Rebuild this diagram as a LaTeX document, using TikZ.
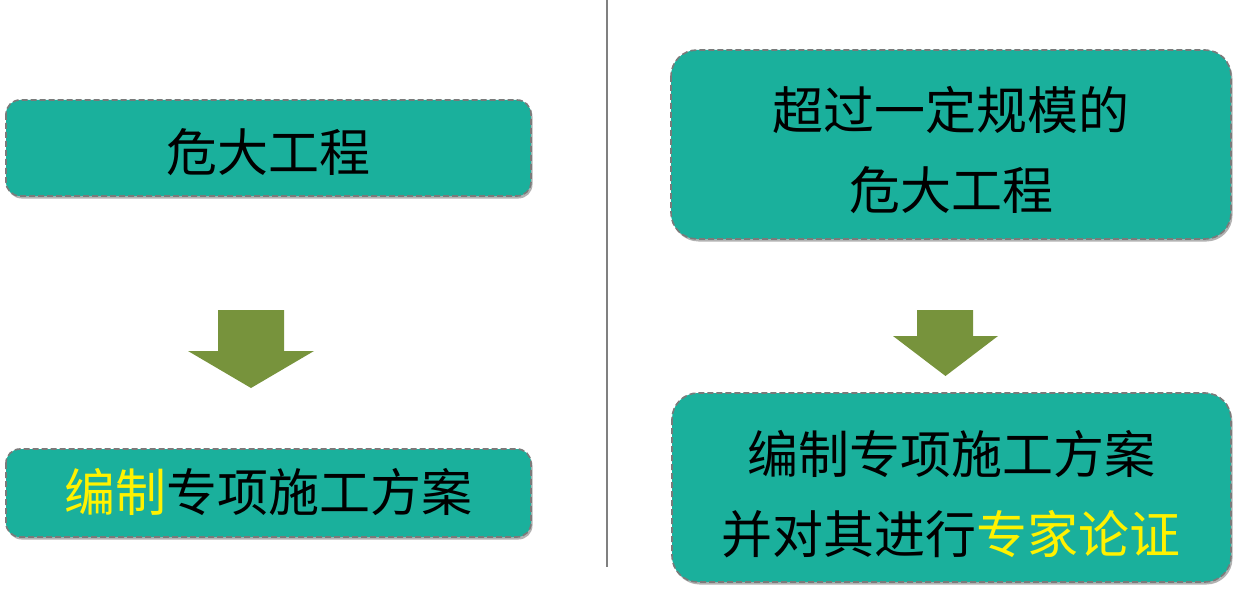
\documentclass[tikz,border=0pt]{standalone}
\usepackage{fontspec}
\newfontfamily\cjk{Noto Sans CJK SC}
\usetikzlibrary{shadows}
\definecolor{boxteal}{HTML}{1AB09C}
\definecolor{arrowgreen}{HTML}{77933C}
\definecolor{dashgray}{HTML}{7A7A7A}
\tikzset{
  x=1pt,y=-1pt,
  card/.style={draw=dashgray, dashed, dash pattern=on 6pt off 3pt, line width=1.6pt,
    fill=boxteal, drop shadow={shadow xshift=1.5pt, shadow yshift=-2.5pt, opacity=0.3, fill=black}},
  lbl/.style={font=\cjk\fontsize{51}{80}\selectfont, align=center, text=black},
  bigarrow/.style={fill=arrowgreen, draw=none},
  divider/.style={draw=gray, line width=1.2pt}
}
\begin{document}
\begin{tikzpicture}
\useasboundingbox (0,0) rectangle (1237,591);
% divider
\coordinate (dtop) at (607,0);
\coordinate (dbot) at (607,567);
\draw[divider] (dtop) -- (dbot);
% left boxes
\draw[card, rounded corners=14pt] (6,100) rectangle (531,196);
\node[lbl] (lt) at (268.5,152) {危大工程};
\draw[card, rounded corners=14pt] (6,449) rectangle (531,537);
\node[lbl] (lb) at (268.5,492) {\textcolor{yellow}{编制}专项施工方案};
% right boxes
\draw[card, rounded corners=26pt] (671,50) rectangle (1231,239);
\node[lbl] (rt) at (951,150) {超过一定规模的\\危大工程};
\draw[card, rounded corners=26pt] (672,393) rectangle (1231,582);
\node[lbl] (rb) at (951,494) {编制专项施工方案\\并对其进行\textcolor{yellow}{专家论证}};
% arrows
\fill[bigarrow] (218,310) -- (284,310) -- (284,351) -- (314,351) -- (251,388) -- (188,351) -- (218,351) -- cycle;
\fill[bigarrow] (917,310) -- (973,310) -- (973,336) -- (998,336) -- (945.5,376) -- (893,336) -- (917,336) -- cycle;
\end{tikzpicture}
\end{document}
